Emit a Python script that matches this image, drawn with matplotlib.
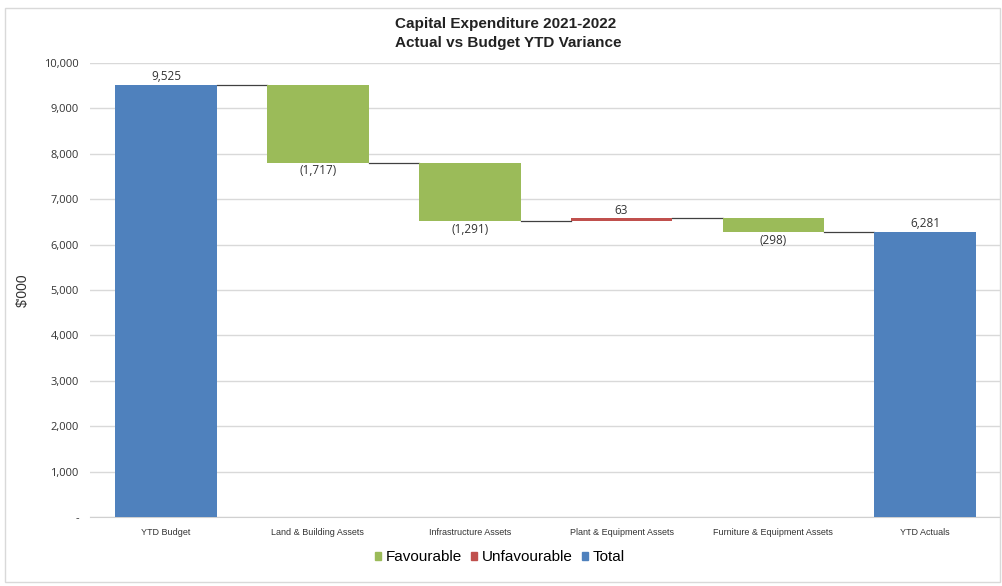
import numpy as np
import matplotlib.pyplot as plt
from matplotlib.patches import Rectangle, Patch

# Data ($'000)
categories = ["YTD Budget", "Land & Building Assets", "Infrastructure Assets",
              "Plant & Equipment Assets", "Furniture & Equipment Assets", "YTD Actuals"]
budget_total = 9525
variances = [-1717, -1291, 63, -298]
actual_total = 6281
value_labels = ["9,525", "(1,717)", "(1,291)", "63", "(298)", "6,281"]

blue = "#4F81BD"
green = "#9BBB59"
red = "#C0504D"

fig = plt.figure(figsize=(10.03, 5.86), dpi=100)
ax = fig.add_axes([0.0897, 0.1177, 0.907, 0.7748])

x = np.arange(len(categories))
width = 0.67

# bottoms/heights for the waterfall
bottoms = [0]
heights = [budget_total]
colors = [blue]
level = budget_total
levels = [level]
for v in variances:
    new_level = level + v
    bottoms.append(min(level, new_level))
    heights.append(abs(v))
    colors.append(green if v < 0 else red)
    level = new_level
    levels.append(level)
bottoms.append(0)
heights.append(actual_total)
colors.append(blue)
levels.append(actual_total)

ax.bar(x, heights, bottom=bottoms, width=width, color=colors, zorder=3)

# connector lines between bars
for i in range(len(categories) - 1):
    ax.plot([x[i] + width / 2, x[i + 1] - width / 2], [levels[i], levels[i]],
            color="#404040", lw=0.9, zorder=2)

# value labels
for i, lab in enumerate(value_labels):
    below = 0 < i < len(categories) - 1 and variances[i - 1] < 0
    if below:
        ax.text(x[i], bottoms[i] - 40, lab, ha="center", va="top",
                fontsize=8.5, color="#333333", family="Open Sans")
    else:
        ax.text(x[i], bottoms[i] + heights[i] + 30, lab, ha="center", va="bottom",
                fontsize=8.5, color="#333333", family="Open Sans")

ax.set_xlim(-0.5, 5.49)
ax.set_ylim(0, 10000)
yticks = np.arange(0, 10001, 1000)
ax.set_yticks(yticks)
ax.set_yticklabels(["-"] + [f"{v:,}" for v in yticks[1:]], fontsize=8,
                   family="Open Sans", color="#333333")
ax.set_xticks(x)
ax.set_xticklabels(categories, fontsize=6.5, family="Liberation Sans",
                   color="#333333")
ax.tick_params(axis="both", length=0, pad=8)
ax.grid(axis="y", color="#d9d9d9", lw=1, zorder=0)
for s in ["top", "right", "left"]:
    ax.spines[s].set_visible(False)
ax.spines["bottom"].set_color("#d0d0d0")
ax.set_ylabel("$'000", fontsize=10, family="Liberation Sans", color="#333333",
              labelpad=10)

fig.text(0.394, 0.959, "Capital Expenditure 2021-2022", ha="left", va="center",
         fontsize=11, fontweight="bold", family="Liberation Sans", color="#222222")
fig.text(0.394, 0.927, "Actual vs Budget YTD Variance", ha="left", va="center",
         fontsize=11, fontweight="bold", family="Liberation Sans", color="#222222")

handles = [Patch(color=green, label="Favourable"),
           Patch(color=red, label="Unfavourable"),
           Patch(color=blue, label="Total")]
fig.legend(handles=handles, loc="center", bbox_to_anchor=(0.498, 0.049), ncol=3,
           frameon=False, handlelength=0.4, handleheight=0.4, handletextpad=0.3,
           columnspacing=0.6, prop={"family": "Liberation Sans", "size": 11})

fig.patches.append(Rectangle((0.005, 0.007), 0.992, 0.98, transform=fig.transFigure,
                             fill=False, edgecolor="#d9d9d9", lw=1))

fig.savefig("out.png", dpi=100)
